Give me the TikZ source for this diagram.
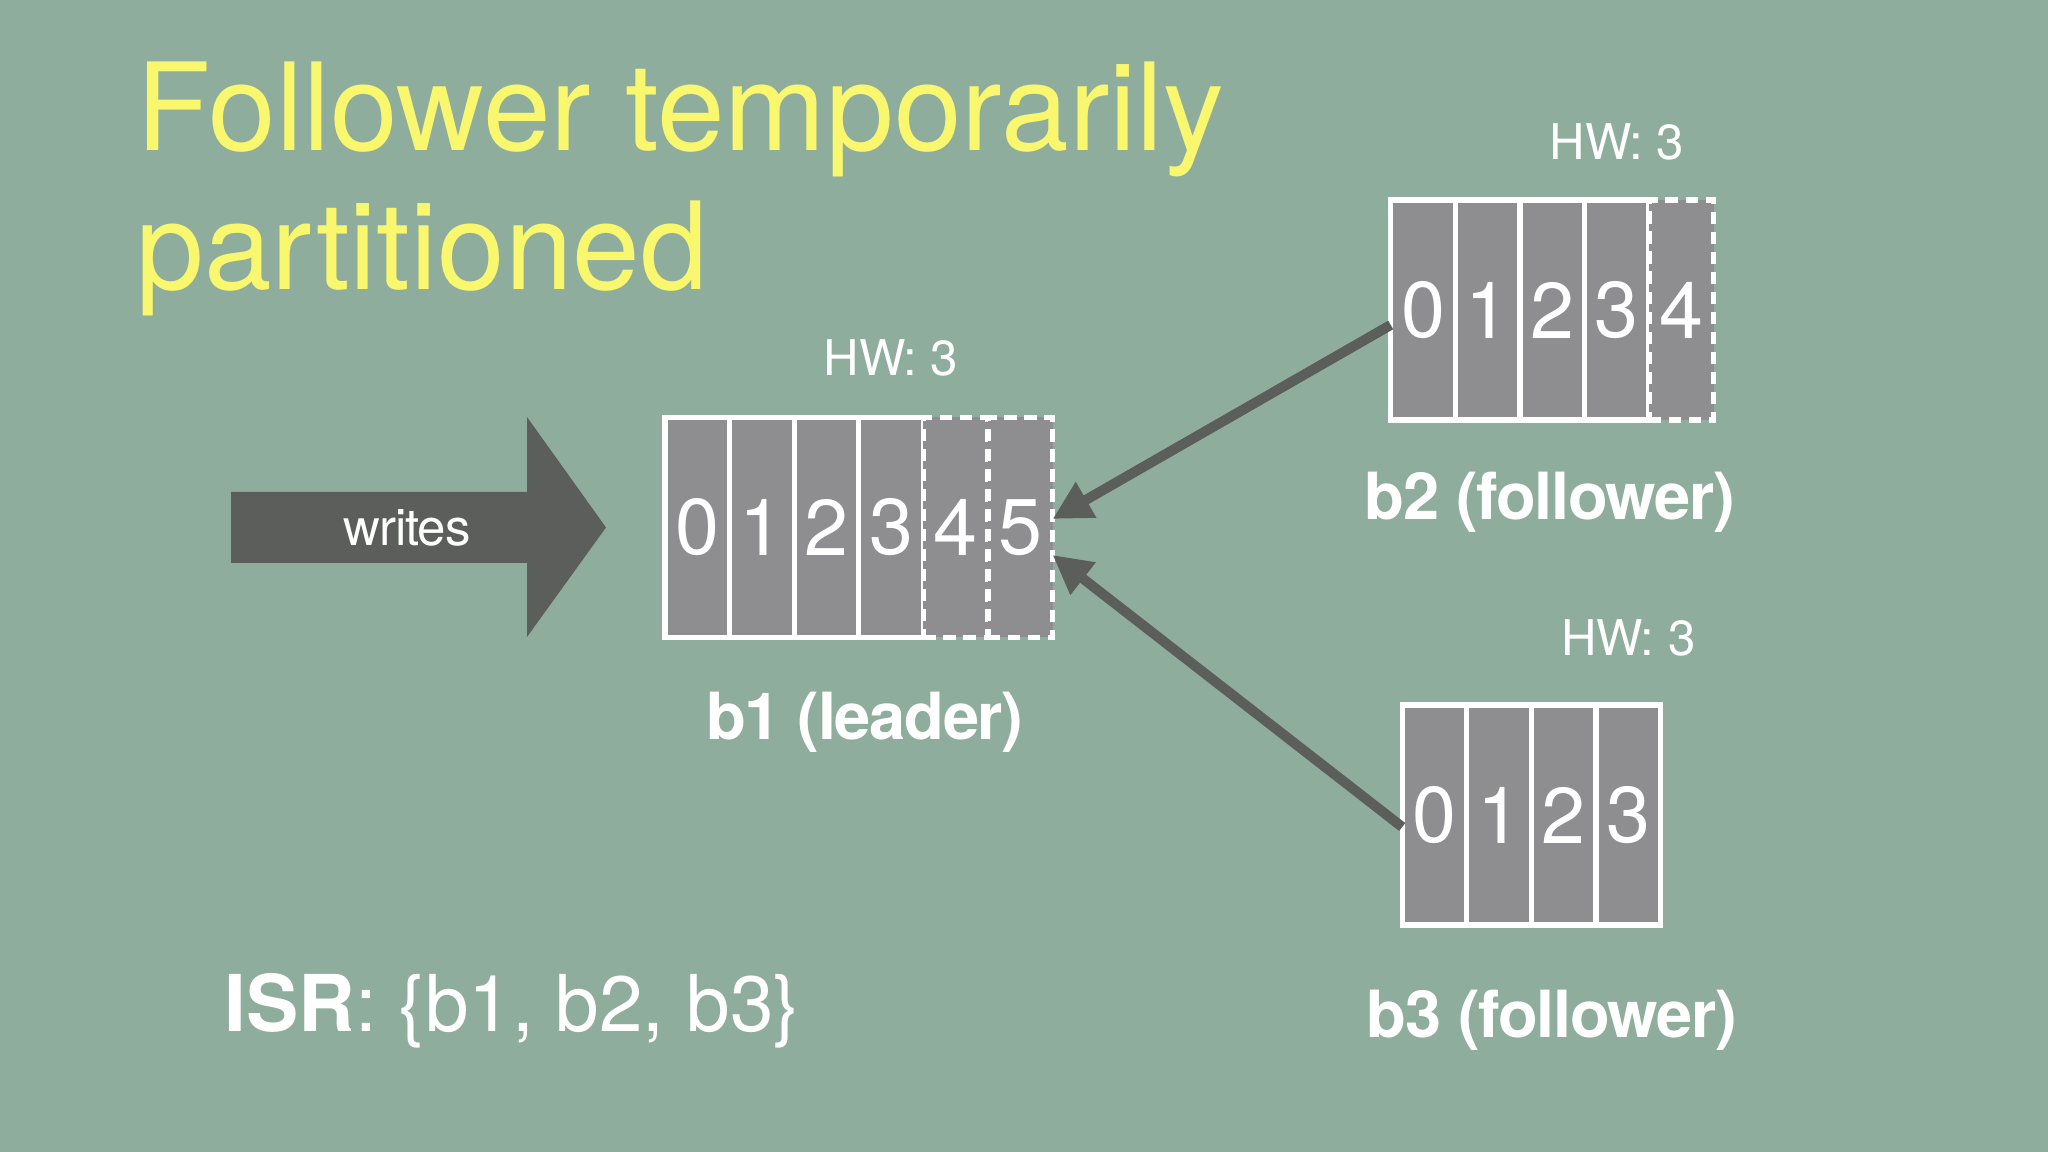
\documentclass[tikz,border=0pt]{standalone}
\usepackage{fontspec}
\setmainfont{TeX Gyre Heros}
\usetikzlibrary{arrows.meta}
\definecolor{bg}{HTML}{8FAD9C}
\definecolor{cg}{HTML}{8E8E90}
\definecolor{dg}{HTML}{5C5E5C}
\definecolor{yl}{HTML}{F8F76E}
\tikzset{
title/.style={text=yl,font=\fontsize{34.6}{41}\selectfont,anchor=base west,inner sep=0pt},
cell/.style={draw=white,line width=1.5pt,fill=cg,text=white,minimum width=0.646cm,minimum height=2.2cm,inner sep=0pt,outer sep=0pt,font=\fontsize{22.5}{27}\selectfont},
dashcell/.style={cell,dash pattern=on 3.5pt off 2.2pt},
hw/.style={text=white,font=\fontsize{14}{17}\selectfont,inner sep=0pt},
replname/.style={text=white,font=\fontsize{18.5}{23}\selectfont\bfseries\addfontfeature{LetterSpace=-2},anchor=base,inner sep=0pt},
link/.style={dg,line width=2.85pt,-{Triangle[length=11pt,width=11pt]}}
}
\newcommand{\replica}[4]{
\begin{scope}[shift={#2}]
\foreach \i in {0,...,#4}{
\ifnum\i>#3
\node[dashcell] (#1-\i) at (\i*0.646,0) {\i};
\else
\node[cell] (#1-\i) at (\i*0.646,0) {\i};
\fi
}
\end{scope}
}

\begin{document}
\begin{tikzpicture}
\useasboundingbox[fill=bg] (0,0) rectangle (20.48,11.52);
\node[title] (t1) at (1.36,10.01) {Follower temporarily};
\node[title] (t2) at (1.36,8.62) {partitioned};
\filldraw[fill=dg,draw=none] (2.31,5.89) -- (5.27,5.89) -- (5.27,5.15) -- (6.06,6.245) -- (5.27,7.35) -- (5.27,6.60) -- (2.31,6.60) -- cycle;
\node[text=white,font=\fontsize{14.5}{18}\selectfont\addfontfeature{LetterSpace=-2},inner sep=0pt] (writes) at (4.07,6.245) {writes};
\replica{b1}{(6.973,6.245)}{3}{5};
\replica{b2}{(14.23,8.42)}{3}{4};
\replica{b3}{(14.345,3.37)}{3}{3};
\node[hw] (b1-hw) at ([yshift=0.6cm]b1-3.north) {HW: 3};
\node[hw] (b2-hw) at ([yshift=0.58cm]b2-3.north) {HW: 3};
\node[hw] (b3-hw) at ([yshift=0.67cm]b3-3.north) {HW: 3};
\node[replname] (b1-name) at (8.65,4.12) {b1 (leader)};
\node[replname] (b2-name) at (15.5,6.32) {b2 (follower)};
\node[replname] (b3-name) at (15.52,1.14) {b3 (follower)};
\draw[link] ([yshift=-0.15cm]b2-0.west) -- ([yshift=0.085cm]b1-5.east);
\draw[link] ([yshift=-0.12cm]b3-0.west) -- ([yshift=-0.275cm]b1-5.east);
\node[anchor=base west,text=white,font=\fontsize{22.3}{26}\selectfont,inner sep=0pt] (isr) at (2.24,1.20) {\textbf{ISR}: \{b1, b2, b3\}};
\end{tikzpicture}
\end{document}
